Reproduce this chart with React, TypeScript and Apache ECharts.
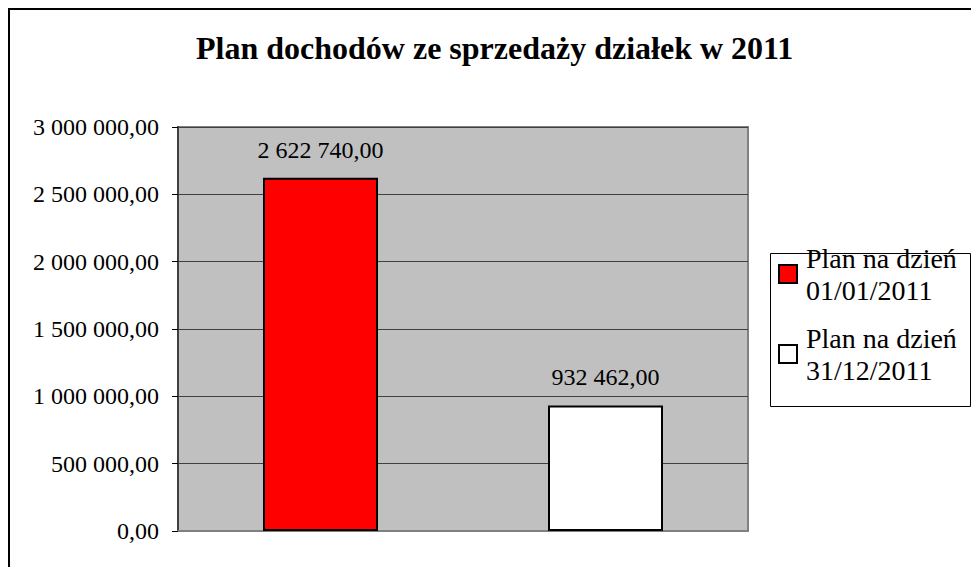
import React, { useEffect, useRef } from "react";
import * as echarts from "echarts";

const title = "Plan dochodów ze sprzedaży działek w 2011";
const categories = ["Plan na dzień 01/01/2011", "Plan na dzień 31/12/2011"];
const seriesNames = ["Plan na dzień\n01/01/2011", "Plan na dzień\n31/12/2011"];
const values = [2622740, 932462];
const colors = ["#FF0000", "#FFFFFF"];
const yMin = 0;
const yMax = 3000000;
const yInterval = 500000;

const FONT = "Liberation Serif";
const REG = 500;
const BLACK = "black";

function fmt(v: number): string {
  const s = Math.round(v).toString().replace(/\B(?=(\d{3})+(?!\d))/g, " ");
  return s + ",00";
}

function legendFor(i: number, top: number) {
  return {
    orient: "vertical",
    left: 778,
    top,
    padding: 0,
    itemGap: 0,
    itemWidth: 18,
    itemHeight: 18,
    icon: "rect",
    itemStyle: { borderColor: BLACK, borderWidth: 2 },
    textStyle: {
      fontFamily: FONT,
      fontWeight: REG,
      fontStyle: "normal",
      fontSize: 28,
      lineHeight: 32,
      color: BLACK,
      padding: [32, 0, 0, 4],
    },
    data: [seriesNames[i]],
    selectedMode: false,
  };
}

export default function App() {
  const ref = useRef<HTMLDivElement>(null);
  useEffect(() => {
    document.body.style.margin = "0";
    if (!ref.current) return;
    const chart = echarts.init(ref.current, undefined, { renderer: "svg" });
    const series = values.map((v, i) => ({
      name: seriesNames[i],
      type: "bar",
      data: values.map((_, j) => (j === i ? v : "-")),
      barWidth: 115,
      barGap: "-100%",
      itemStyle: { color: colors[i], borderColor: BLACK, borderWidth: 2 },
      label: {
        show: true,
        position: "top",
        distance: 16,
        formatter: (p: any) => fmt(p.value),
        fontFamily: FONT,
        fontWeight: REG,
        fontStyle: "normal",
        fontSize: 24,
        color: BLACK,
      },
    }));
    chart.setOption({
      animation: false,
      textStyle: { fontFamily: FONT, fontWeight: REG },
      title: {
        text: title,
        left: 191,
        top: 27,
        textStyle: { fontFamily: FONT, fontSize: 32, fontWeight: "bold", color: BLACK },
      },
      graphic: [
        {
          type: "rect",
          shape: { x: 9, y: 9, width: 1000, height: 1000 },
          style: { fill: "none", stroke: BLACK, lineWidth: 2 },
          silent: true,
        },
        {
          type: "rect",
          shape: { x: 770.5, y: 253.5, width: 200, height: 153 },
          style: { fill: "#fff", stroke: BLACK, lineWidth: 1 },
          silent: true,
          z: -1,
        },
      ],
      legend: [legendFor(0, 226), legendFor(1, 306)],
      grid: {
        left: 178,
        right: 223,
        top: 127,
        bottom: 36,
        show: true,
        backgroundColor: "#C0C0C0",
        borderColor: "#808080",
        borderWidth: 2,
        containLabel: false,
      },
      xAxis: {
        type: "category",
        data: categories,
        axisLine: { show: true, lineStyle: { color: "#808080", width: 2 } },
        axisTick: { show: false },
        axisLabel: { show: false },
        splitLine: { show: false },
      },
      yAxis: {
        type: "value",
        min: yMin,
        max: yMax,
        interval: yInterval,
        axisLine: { show: true, lineStyle: { color: "#404040", width: 2 } },
        axisTick: { show: true, length: 6, lineStyle: { color: BLACK, width: 1 } },
        axisLabel: {
          formatter: (v: number) => fmt(v),
          fontFamily: FONT,
          fontWeight: REG,
          fontStyle: "normal",
          fontSize: 24,
          color: BLACK,
          margin: 19,
        },
        splitLine: { show: true, lineStyle: { color: "#404040", width: 1 } },
      },
      series,
    });
    return () => chart.dispose();
  }, []);
  return <div ref={ref} style={{ width: 971, height: 567 }} />;
}
